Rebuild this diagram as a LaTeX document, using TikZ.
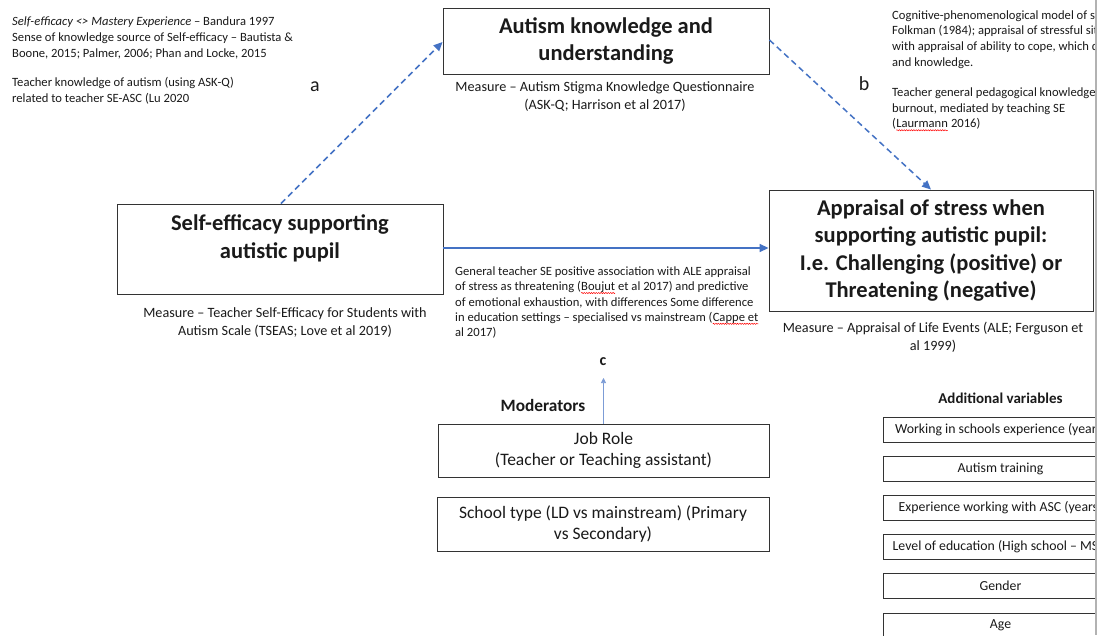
\documentclass[tikz,border=0pt]{standalone}
\usepackage{fontspec}
\setmainfont{Carlito}
\usetikzlibrary{arrows.meta,decorations.pathmorphing}
\definecolor{obl}{HTML}{4472C4}
\definecolor{txtc}{HTML}{1A1A1A}
\newcommand\redsq[1]{\tikz[baseline=(sqw.base)]{\node[inner sep=0pt, outer sep=0pt, anchor=base, draw=none](sqw) at (0pt,0pt){#1}; \draw[red, line width=0.5pt, solid, decorate, decoration={snake, amplitude=0.6pt, segment length=2.4pt}] ([yshift=-2.4pt]sqw.base west) -- ([yshift=-2.4pt]sqw.base east);}}
\tikzset{
  box/.style={draw=black!80, line width=0.9pt, inner sep=0pt, align=center, text=txtc},
  bigt/.style={font=\fontsize{22.5}{27.5}\selectfont\bfseries, align=center, text=txtc},
  meas/.style={font=\fontsize{14.2}{18}\selectfont, align=center, text=txtc},
  note/.style={font=\fontsize{12.6}{15.6}\selectfont, align=left, anchor=west, inner sep=0pt, text=txtc},
  modt/.style={font=\fontsize{17.5}{21.2}\selectfont},
  varbox/.style={box, minimum width=235pt, minimum height=25pt, font=\fontsize{13.8}{16}\selectfont},
  lbl/.style={font=\fontsize{20}{22}\selectfont, text=txtc},
  dasharr/.style={obl, line width=1.5pt, dash pattern=on 6pt off 4pt, -{Triangle[length=9pt,width=8pt]}},
  solarr/.style={obl, line width=1.5pt, -{Triangle[length=9pt,width=8pt]}},
  thinarr/.style={obl!70, line width=0.6pt, -{Triangle[length=5pt,width=5pt]}}
}
\begin{document}
\begin{tikzpicture}[x=1pt,y=-1pt]
\useasboundingbox (0,0) rectangle (1103,635);
\fill[white] (0,0) rectangle (1103,635);
\begin{scope}
\clip (0,0) rectangle (1095,635);
% main boxes
\node[box, minimum width=326pt, minimum height=66pt, font=\fontsize{22.5}{27.5}\selectfont\bfseries] (ak) at (606,41) {Autism knowledge and\\understanding};
\node[meas] (akm) at (605,97) {Measure – Autism Stigma Knowledge Questionnaire\\(ASK-Q; Harrison et al 2017)};

\node[box, minimum width=326pt, minimum height=90pt] (se) at (280,249) {};
\node[bigt] (set) at (280,238.5) {Self-efficacy supporting\\autistic pupil};
\node[meas] (sem) at (285,322.5) {Measure – Teacher Self-Efficacy for Students with\\Autism Scale (TSEAS; Love et al 2019)};

\node[box, minimum width=324pt, minimum height=121pt, font=\fontsize{22.5}{27.5}\selectfont\bfseries] (ap) at (931,250.5) {Appraisal of stress when\\supporting autistic pupil:\\I.e. Challenging (positive) or\\Threatening (negative)};
\node[meas] (apm) at (933,337) {Measure – Appraisal of Life Events (ALE; Ferguson et\\al 1999)};

% notes
\node[note] (n1) at (12,38) {\textit{Self-efficacy <> Mastery Experience} – Bandura 1997\\Sense of knowledge source of Self-efficacy – Bautista \&\\Boone, 2015; Palmer, 2006; Phan and Locke, 2015};
\node[note] (n2) at (12,91) {Teacher knowledge of autism (using ASK-Q)\\related to teacher SE-ASC (Lu 2020};
\node[note] (n3) at (892,39.5) {Cognitive-phenomenological model of stress – Lazarus \&\\Folkman (1984); appraisal of stressful situations associated\\with appraisal of ability to cope, which depends on skills\\and knowledge.};
\node[note] (n4) at (892,109.5) {Teacher general pedagogical knowledge associated with\\burnout, mediated by teaching SE\\(\redsq{Laurmann} 2016)};
\node[note, font=\fontsize{12.6}{15.4}\selectfont] (n5) at (455,302.5) {General teacher SE positive association with ALE appraisal\\of stress as threatening (\redsq{Boujut} et al 2017) and predictive\\of emotional exhaustion, with differences Some difference\\in education settings – specialised vs mainstream (\redsq{Cappe et}\\al 2017)};

% labels
\node[lbl] (la) at (315,87) {a};
\node[lbl] (lb) at (864,84) {b};
\node[lbl, font=\fontsize{16}{18}\selectfont\bfseries] (lc) at (603,362) {c};
\coordinate (ctip) at (603.5,378);

% moderators
\node[font=\fontsize{17.3}{19}\selectfont\bfseries, text=txtc] (mod) at (543,405) {Moderators};
\node[box, minimum width=331pt, minimum height=53pt, modt] (job) at (603.5,450.5) {Job Role\\(Teacher or Teaching assistant)};
\node[box, minimum width=332pt, minimum height=54pt, modt] (sch) at (603,524) {School type (LD vs mainstream) (Primary\\vs Secondary)};

% additional variables
\node[font=\fontsize{15}{17}\selectfont\bfseries, text=txtc] (addv) at (1000.5,398) {Additional variables};
\node[varbox] (v1) at (1000.5,429.5) {Working in schools experience (years)};
\node[varbox] (v2) at (1000.5,469) {Autism training};
\node[varbox] (v3) at (1000.5,507.5) {Experience working with ASC (years)};
\node[varbox] (v4) at (1000.5,547) {Level of education (High school – MSc)};
\node[varbox] (v5) at (1000.5,586) {Gender};
\node[varbox] (v6) at (1000.5,625.5) {Age};

% connectors
\draw[dasharr] (281,0 |- se.north) -- (ak.west |- 0,42);
\draw[dasharr] (ak.east |- 0,40) -- (931,0 |- ap.north);
\draw[solarr] (se.east |- 0,248) -- (ap.west |- 0,248);
\draw[thinarr] (job.north) -- (ctip);
\end{scope}
\draw[gray!60, line width=1.5pt] (1096,0) -- (1096,635);
\end{tikzpicture}
\end{document}
